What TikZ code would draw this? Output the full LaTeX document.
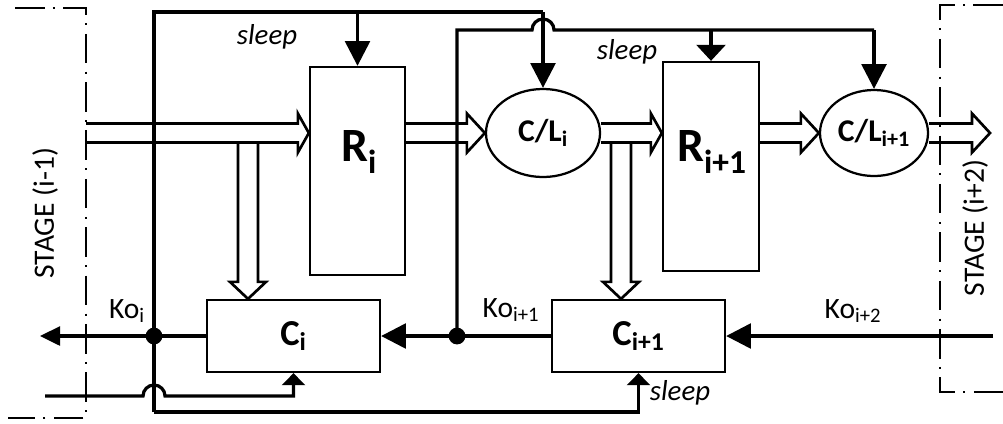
\documentclass[tikz,border=0pt]{standalone}
\usepackage{fontspec}
\setmainfont{Carlito}
\usetikzlibrary{arrows.meta,shapes.geometric,calc}
\newcommand{\harrow}[3]{%
  \draw[hollow] ($(#1)+(0,-9.5)$) -- ($(#2)+(-#3,-9.5)$) -- ($(#2)+(-#3,-19.5)$) -- (#2)
    -- ($(#2)+(-#3,19.5)$) -- ($(#2)+(-#3,9.5)$) -- ($(#1)+(0,9.5)$);}
\newcommand{\varrow}[3]{%
  \draw[hollow] ($(#1)+(-10,0)$) -- ($(#2)+(-10,-#3)$) -- ($(#2)+(-18,-#3)$) -- (#2)
    -- ($(#2)+(18,-#3)$) -- ($(#2)+(10,-#3)$) -- ($(#1)+(10,0)$);}
\begin{document}
\begin{tikzpicture}[x=0.025cm,y=-0.025cm,
  box/.style={draw,line width=1.6pt,inner sep=0pt},
  wire/.style={line width=2.3pt},
  hollow/.style={line width=1.9pt,line join=miter},
  stagebd/.style={line width=1.5pt,dash pattern=on 21pt off 6pt on 1.4pt off 6pt},
  dot/.style={circle,fill,inner sep=0pt,minimum size=0.42cm},
  arrA/.style={-{Triangle[length=0.62cm,width=0.62cm]}},
  arrB/.style={-{Triangle[length=0.4cm,width=0.72cm]}},
  arrC/.style={-{Triangle[length=0.3cm,width=0.57cm]}},
  arrD/.style={-{Triangle[length=0.5cm,width=0.47cm]}},
  lab/.style={font=\fontsize{21}{25}\selectfont},
  sl/.style={font=\fontsize{20.5}{24}\selectfont\itshape},
  stg/.style={font=\fontsize{21}{25}\selectfont,rotate=90},
  big/.style={font=\fontsize{34}{40}\selectfont\bfseries},
  cl/.style={font=\fontsize{22.5}{27}\selectfont\bfseries},
  cb/.style={font=\fontsize{26}{30}\selectfont\bfseries},
]
\useasboundingbox (0,0) rectangle (1003,423);

% stage boundaries
\draw[stagebd] (15,8) -- (86,8) -- (86,418) -- (8,418);
\draw[stagebd] (1003,5) -- (940,5) -- (940,392) -- (1003,392);
\node[stg] (stL) at (45,213) {STAGE (i-1)};
\node[stg] (stR) at (975,228) {STAGE (i+2)};

% blocks
\node[box,minimum width=2.375cm,minimum height=5.2cm] (Ri) at (357.5,171) {};
\node[big] (RiT) at (359,152) {R\textsubscript{i}};
\node[box,minimum width=2.4cm,minimum height=5.225cm] (Ri1) at (711,166.5) {};
\node[big] (Ri1T) at (712,152) {R\textsubscript{i+1}};
\node[box,ellipse,minimum width=2.85cm,minimum height=2.2cm,cl] (CLi) at (543,133) {C/L\textsubscript{i}};
\node[box,ellipse,minimum width=2.7cm,minimum height=2.15cm,cl] (CLi1) at (874,133) {C/L\textsubscript{i+1}};
\node[box,minimum width=4.325cm,minimum height=1.8cm,cb] (Ci) at (293.5,336) {C\textsubscript{i}};
\node[box,minimum width=4.325cm,minimum height=1.8cm,cb] (Ci1) at (638.5,336) {C\textsubscript{i+1}};

% data path (hollow arrows)
\coordinate (in) at (86,133);
\coordinate (t1) at (Ri.west |- in);
\coordinate (o1) at (Ri.east |- in);
\coordinate (t3) at (Ri1.west |- in);
\coordinate (o3) at (Ri1.east |- in);
\coordinate (out) at (990,133);
\harrow{in}{t1}{11}
\harrow{o1}{CLi.west}{18}
\harrow{CLi.east}{t3}{11}
\harrow{o3}{CLi1.west}{18}
\harrow{CLi1.east}{out}{18}
\coordinate (v1) at (248,142.5);
\coordinate (v1t) at (Ci.north -| v1);
\coordinate (v2) at (621,142.5);
\coordinate (v2t) at (Ci1.north -| v2);
\varrow{v1}{v1t}{17}
\varrow{v2}{v2t}{17}

% sleep signals of stage i
\coordinate (s1) at (154,12);
\coordinate (s1b) at (154,412);
\coordinate (s1r) at (CLi.north |- s1);
\coordinate (s1R) at (Ri.north |- s1);
\coordinate (s1c) at (Ci1.south |- s1b);
\draw[wire] (s1b) -- (s1) -- (s1r);
\draw[wire,arrA] (s1r) -- (CLi.north);
\draw[wire,arrA] (s1R) -- (Ri.north);
\draw[wire,arrC] (s1b) -- (s1c) -- (Ci1.south);

% sleep signals of stage i+1
\node[dot] (j2) at (457,336) {};
\coordinate (s2) at (457,30);
\coordinate (s2r) at (CLi1.north |- s2);
\coordinate (s2R) at (Ri1.north |- s2);
\draw[wire] (j2.center) -- (s2) -- ($(CLi.north |- s2)+(-11,0)$) arc[start angle=180,end angle=0,radius=0.275cm] -- (s2r);
\draw[wire,arrA] (s2r) -- (CLi1.north);
\draw[wire,arrB] (s2R) -- (Ri1.north);

% sleep from previous stage
\coordinate (s3) at (45,396);
\coordinate (s3c) at (Ci.south |- s3);
\draw[wire,arrC] (s3) -- ($(s1 |- s3)+(-11,0)$) arc[start angle=180,end angle=0,radius=0.275cm] -- (s3c) -- (Ci.south);

% Ko signals
\node[dot] (j1) at (154,336) {};
\coordinate (koL) at (40,336);
\coordinate (koR) at (993,336);
\draw[wire,arrD] (Ci.west) -- (koL);
\draw[wire,arrA] (Ci1.west) -- (Ci.east);
\draw[wire,arrA] (koR) -- (Ci1.east);

% labels
\node[sl] (sl1) at (267,37) {sleep};
\node[sl] (sl2) at (627,52) {sleep};
\node[sl] (sl3) at (680,393) {sleep};
\node[lab] (k1) at (127,311) {Ko\textsubscript{i}};
\node[lab] (k2) at (511,310) {Ko\textsubscript{i+1}};
\node[lab] (k3) at (853,311) {Ko\textsubscript{i+2}};
\end{tikzpicture}
\end{document}
